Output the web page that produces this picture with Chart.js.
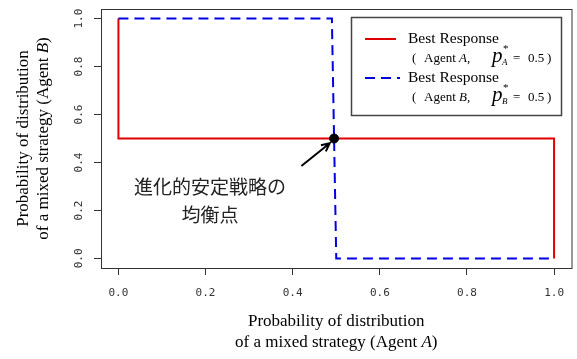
<!DOCTYPE html>
<html>
<head>
<meta charset="utf-8">
<script src="https://cdn.jsdelivr.net/npm/chart.js@4/dist/chart.umd.min.js"></script>
<style>
  html, body { margin: 0; padding: 0; background: #fff; }
  #wrap { width: 577px; height: 359px; position: relative; }
</style>
</head>
<body>
<div id="wrap"><canvas id="chart"></canvas></div>
<script>
// 最適応答 (Agent A): 赤の実線
const redX = [0, 0, 1, 1];
const redY = [1, 0.5, 0.5, 0];
// 最適応答 (Agent B): 青の破線
const blueX = [0, 0.49, 0.5, 1];
const blueY = [1, 1, 0, 0];
// 均衡点
const eqX = [0.495];
const eqY = [0.5];
// 目盛り
const tickValues = [0, 0.2, 0.4, 0.6, 0.8, 1.0];

const SERIF = '"Liberation Serif", "Times New Roman", serif';
const MONO = '"DejaVu Sans Mono", monospace';
const JP = '"Noto Sans CJK JP", sans-serif';

function toPoints(xs, ys) {
    return xs.map((x, i) => ({ x: x, y: ys[i] }));
}

// テキストを複数のフォントで続けて描く
function drawRuns(ctx, x, y, runs) {
    runs.forEach(r => {
        ctx.font = r.font;
        ctx.fillText(r.t, r.x != null ? r.x : x, y + (r.dy || 0));
        x = (r.x != null ? r.x : x) + ctx.measureText(r.t).width;
    });
}

const decorations = {
    id: 'decorations',
    afterDraw(chart) {
        const ctx = chart.ctx;
        const a = chart.chartArea;
        const xs = chart.scales.x;
        const ys = chart.scales.y;
        ctx.save();

        // 枠
        ctx.strokeStyle = '#333';
        ctx.lineWidth = 1;
        ctx.strokeRect(a.left + 0.5, a.top + 0.5, a.right - a.left, a.bottom - a.top);

        // y軸目盛りラベル (回転)
        ctx.fillStyle = '#333';
        ctx.font = '11px ' + MONO;
        ctx.textAlign = 'center';
        ctx.textBaseline = 'middle';
        tickValues.forEach(v => {
            ctx.save();
            ctx.translate(79, ys.getPixelForValue(v));
            ctx.rotate(-Math.PI / 2);
            ctx.fillText(v.toFixed(1), 0, 0);
            ctx.restore();
        });

        // 軸タイトル
        ctx.fillStyle = '#000';
        const cx = (a.left + a.right) / 2;
        const italicLine = (x0, y0, pre, it, post) => {
            ctx.font = '17px ' + SERIF;
            const w1 = ctx.measureText(pre).width;
            const w3 = ctx.measureText(post).width;
            ctx.font = 'italic 17px ' + SERIF;
            const w2 = ctx.measureText(it).width;
            let x = x0 - (w1 + w2 + w3) / 2;
            ctx.textAlign = 'left';
            drawRuns(ctx, x, y0, [
                { t: pre, font: '17px ' + SERIF },
                { t: it, font: 'italic 17px ' + SERIF },
                { t: post, font: '17px ' + SERIF }
            ]);
        };
        ctx.textAlign = 'center';
        ctx.textBaseline = 'middle';
        ctx.font = '17px ' + SERIF;
        ctx.fillText('Probability of distribution', cx, 322);
        italicLine(cx, 343, 'of a mixed strategy (Agent ', 'A', ')');

        const cy = (a.top + a.bottom) / 2;
        ctx.save();
        ctx.translate(24, cy);
        ctx.rotate(-Math.PI / 2);
        ctx.textAlign = 'center';
        ctx.font = '17px ' + SERIF;
        ctx.fillText('Probability of distribution', 0, 0);
        ctx.restore();
        ctx.save();
        ctx.translate(44, cy);
        ctx.rotate(-Math.PI / 2);
        italicLine(0, 0, 'of a mixed strategy (Agent ', 'B', ')');
        ctx.restore();

        // 凡例
        ctx.fillStyle = '#fff';
        ctx.fillRect(351, 17, 211, 99);
        ctx.strokeStyle = '#444';
        ctx.lineWidth = 1.5;
        ctx.strokeRect(351.5, 17.5, 210, 98);

        ctx.lineWidth = 2;
        ctx.strokeStyle = '#e00000';
        ctx.beginPath();
        ctx.moveTo(365, 39);
        ctx.lineTo(396, 39);
        ctx.stroke();
        ctx.strokeStyle = '#0000e6';
        ctx.setLineDash([10, 6]);
        ctx.beginPath();
        ctx.moveTo(365, 78);
        ctx.lineTo(400, 78);
        ctx.stroke();
        ctx.setLineDash([]);

        ctx.fillStyle = '#000';
        ctx.textAlign = 'left';
        ctx.textBaseline = 'alphabetic';
        const legendRows = [
            { y: 43, agent: 'A' },
            { y: 82, agent: 'B' }
        ];
        legendRows.forEach(r => {
            ctx.font = '15.5px ' + SERIF;
            ctx.fillText('Best Response', 408, r.y);
            const y2 = r.y + 19;
            drawRuns(ctx, 412, y2, [
                { t: '(', font: '13px ' + SERIF },
                { t: 'Agent ', font: '13px ' + SERIF, x: 424 },
                { t: r.agent, font: 'italic 13px ' + SERIF },
                { t: ',', font: '13px ' + SERIF },
                { t: 'p', font: 'italic 21px ' + SERIF, x: 492 },
                { t: '*', font: '11px ' + SERIF, x: 503, dy: -10 },
                { t: r.agent, font: 'italic 9px ' + SERIF, x: 502, dy: 3 },
                { t: '=', font: '13px ' + SERIF, x: 513 },
                { t: '0.5', font: '13px ' + SERIF, x: 528 },
                { t: ')', font: '13px ' + SERIF, x: 547 }
            ]);
        });

        // 注釈
        ctx.fillStyle = '#222';
        ctx.font = '19px ' + JP;
        ctx.textAlign = 'center';
        ctx.textBaseline = 'middle';
        const tx = xs.getPixelForValue(0.21);
        ctx.fillText('進化的安定戦略の', tx, ys.getPixelForValue(0.298));
        ctx.fillText('均衡点', tx, ys.getPixelForValue(0.18));

        // 矢印
        const x0 = xs.getPixelForValue(0.42), y0 = ys.getPixelForValue(0.385);
        const x1 = xs.getPixelForValue(0.485), y1 = ys.getPixelForValue(0.48);
        const ang = Math.atan2(y1 - y0, x1 - x0);
        ctx.strokeStyle = '#000';
        ctx.lineWidth = 2;
        ctx.beginPath();
        ctx.moveTo(x0, y0);
        ctx.lineTo(x1, y1);
        ctx.moveTo(x1 - 9 * Math.cos(ang - 0.45), y1 - 9 * Math.sin(ang - 0.45));
        ctx.lineTo(x1, y1);
        ctx.lineTo(x1 - 9 * Math.cos(ang + 0.45), y1 - 9 * Math.sin(ang + 0.45));
        ctx.stroke();

        ctx.restore();
    }
};

const setTicks = scale => {
    scale.ticks = tickValues.map(v => ({ value: v }));
};

new Chart(document.getElementById('chart'), {
    type: 'scatter',
    data: {
        datasets: [
            {
                data: toPoints(redX, redY),
                showLine: true,
                borderColor: '#e00000',
                borderWidth: 2,
                pointRadius: 0,
                tension: 0,
                order: 2
            },
            {
                data: toPoints(blueX, blueY),
                showLine: true,
                borderColor: '#0000e6',
                borderWidth: 2,
                borderDash: [10, 6],
                pointRadius: 0,
                tension: 0,
                order: 1
            },
            {
                data: toPoints(eqX, eqY),
                showLine: false,
                pointRadius: 4.5,
                backgroundColor: '#000',
                borderColor: '#000',
                order: 0
            }
        ]
    },
    options: {
        responsive: true,
        maintainAspectRatio: false,
        animation: false,
        layout: { padding: { top: 9, right: 4, left: 0, bottom: 0 } },
        plugins: {
            legend: { display: false },
            tooltip: { enabled: false }
        },
        scales: {
            x: {
                type: 'linear',
                min: -0.04,
                max: 1.04,
                afterBuildTicks: setTicks,
                afterFit: s => { s.height = 91; },
                border: { display: false },
                grid: { drawOnChartArea: false, drawTicks: true, tickLength: 7, color: '#333' },
                ticks: {
                    padding: 12,
                    color: '#333',
                    font: { family: MONO, size: 11 },
                    maxRotation: 0,
                    callback: v => v.toFixed(1)
                }
            },
            y: {
                type: 'linear',
                min: -0.04,
                max: 1.04,
                afterBuildTicks: setTicks,
                afterFit: s => { s.width = 101; },
                border: { display: false },
                grid: { drawOnChartArea: false, drawTicks: true, tickLength: 7, color: '#333' },
                ticks: { display: false }
            }
        }
    },
    plugins: [decorations]
});
</script>
</body>
</html>
